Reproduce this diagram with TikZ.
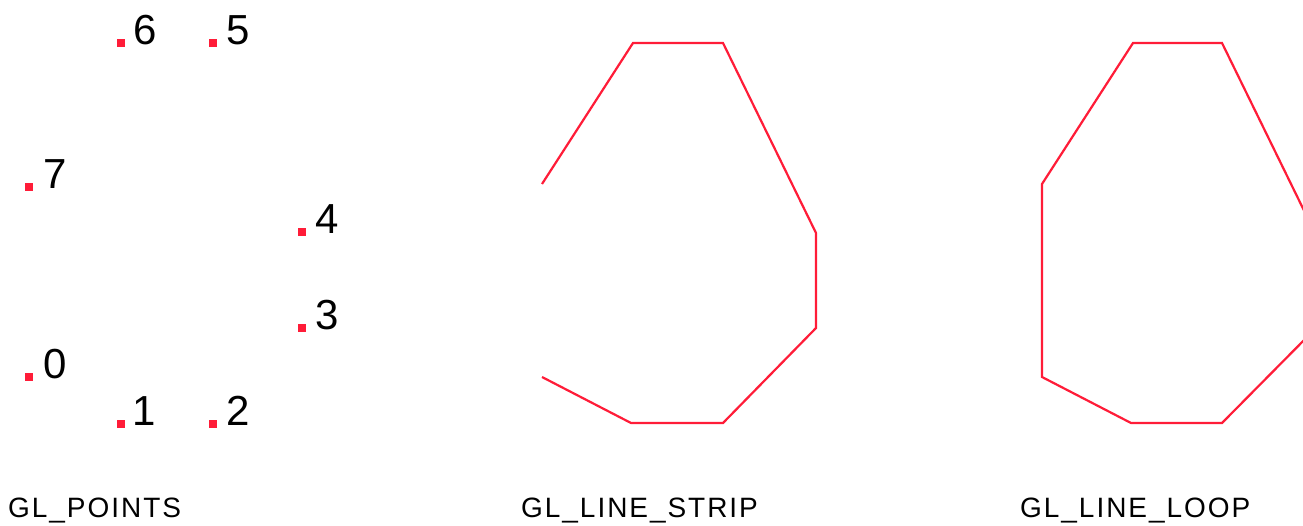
\documentclass[tikz,border=0pt]{standalone}
\usepackage{fontspec}
\setmainfont{Liberation Sans}
\newfontfamily\glfont[LetterSpace=7]{Liberation Sans}
\usetikzlibrary{positioning}
\definecolor{glred}{RGB}{255,28,56}

\begin{document}
\begin{tikzpicture}[
  x=1pt, y=-1pt,
  vert/.style={fill=glred, inner sep=0pt, minimum size=8pt},
  num/.style={anchor=base west, inner sep=0pt, font=\fontsize{42}{42}\selectfont},
  caption/.style={anchor=base west, inner sep=0pt, font=\glfont\fontsize{28}{28}\selectfont},
  prim/.style={draw=glred, line width=2.2pt, line join=miter}
]
\clip (0,0) rectangle (1303,526);
\fill[white] (0,0) rectangle (1303,526);
% GL_POINTS
\node[vert] (p0) at (29,377) {};
\node[vert] (p1) at (121,424) {};
\node[vert] (p2) at (213,424) {};
\node[vert] (p3) at (302,328) {};
\node[vert] (p4) at (302,232) {};
\node[vert] (p5) at (213,43) {};
\node[vert] (p6) at (121,43) {};
\node[vert] (p7) at (29,187) {};
\node[num] (n0) at ([shift={(10,-3)}]p0.south east) {0};
\node[num] (n1) at ([shift={(7,-3)}]p1.south east) {1};
\node[num] (n2) at ([shift={(9,-3)}]p2.south east) {2};
\node[num] (n3) at ([shift={(9,-3)}]p3.south east) {3};
\node[num] (n4) at ([shift={(9,-3)}]p4.south east) {4};
\node[num] (n5) at ([shift={(9,-3)}]p5.south east) {5};
\node[num] (n6) at ([shift={(8,-3)}]p6.south east) {6};
\node[num] (n7) at ([shift={(10,-3)}]p7.south east) {7};
% GL_LINE_STRIP
\coordinate (s0) at (542,377);
\coordinate (s1) at (631,423);
\coordinate (s2) at (723,423);
\coordinate (s3) at (816,328);
\coordinate (s4) at (816,233);
\coordinate (s5) at (723,43);
\coordinate (s6) at (633,43);
\coordinate (s7) at (542,184);
\draw[prim] (s0) -- (s1) -- (s2) -- (s3) -- (s4) -- (s5) -- (s6) -- (s7);
% GL_LINE_LOOP
\coordinate (l0) at (1042,377);
\coordinate (l1) at (1131,423);
\coordinate (l2) at (1222,423);
\coordinate (l3) at (1316,328);
\coordinate (l4) at (1315,233);
\coordinate (l5) at (1222,43);
\coordinate (l6) at (1133,43);
\coordinate (l7) at (1042,184);
\draw[prim] (l0) -- (l1) -- (l2) -- (l3) -- (l4) -- (l5) -- (l6) -- (l7) -- cycle;
% captions
\node[caption] (points) at (8,517) {GL\_POINTS};
\node[caption] (strip) at (521,517) {GL\_LINE\_STRIP};
\node[caption] (loop) at (1020,517) {GL\_LINE\_LOOP};
\end{tikzpicture}
\end{document}
